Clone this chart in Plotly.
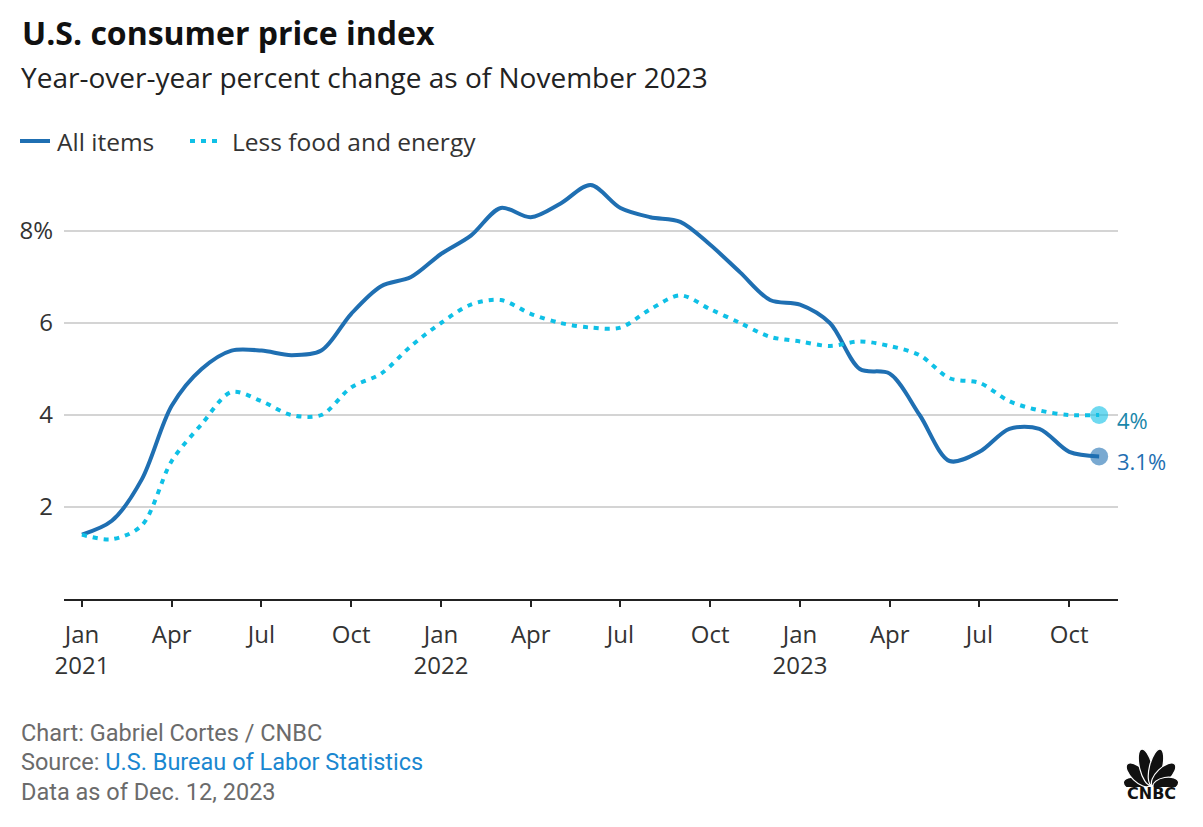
import plotly.graph_objects as go

# monthly year-over-year % change, Jan 2021 .. Nov 2023
months = ["2021-01", "2021-02", "2021-03", "2021-04", "2021-05", "2021-06",
          "2021-07", "2021-08", "2021-09", "2021-10", "2021-11", "2021-12",
          "2022-01", "2022-02", "2022-03", "2022-04", "2022-05", "2022-06",
          "2022-07", "2022-08", "2022-09", "2022-10", "2022-11", "2022-12",
          "2023-01", "2023-02", "2023-03", "2023-04", "2023-05", "2023-06",
          "2023-07", "2023-08", "2023-09", "2023-10", "2023-11"]
all_items = [1.4, 1.7, 2.6, 4.2, 5.0, 5.4, 5.4, 5.3, 5.4, 6.2, 6.8, 7.0,
             7.5, 7.9, 8.5, 8.3, 8.6, 9.0, 8.5, 8.3, 8.2, 7.7, 7.1, 6.5,
             6.4, 6.0, 5.0, 4.9, 4.0, 3.0, 3.2, 3.7, 3.7, 3.2, 3.1]
core = [1.4, 1.3, 1.6, 3.0, 3.8, 4.5, 4.3, 4.0, 4.0, 4.6, 4.9, 5.5,
        6.0, 6.4, 6.5, 6.2, 6.0, 5.9, 5.9, 6.3, 6.6, 6.3, 6.0, 5.7,
        5.6, 5.5, 5.6, 5.5, 5.3, 4.8, 4.7, 4.3, 4.1, 4.0, 4.0]

x_ticks = ["Jan<br>2021", "Apr", "Jul", "Oct", "Jan<br>2022", "Apr", "Jul", "Oct",
           "Jan<br>2023", "Apr", "Jul", "Oct"]
y_ticks = [2, 4, 6, 8]
y_labels = ["2", "4", "6", "8%"]

W, H = 1203, 827
ML, MR, MT, MB = 64, 85, 162, 228
pw, ph = W - ML - MR, H - MT - MB
FONT = "Open Sans"

def px(x):
    return (x - ML) / pw

def py(y):
    return (H - MB - y) / ph

idx = list(range(len(months)))
blue = "#1f6fb2"
cyan = "#0fc0e6"
dots = "5px,6px"

fig = go.Figure()
fig.add_trace(go.Scatter(x=idx, y=all_items, name="All items", mode="lines",
                         line=dict(color=blue, width=4, shape="spline", smoothing=0.9)))
fig.add_trace(go.Scatter(x=idx, y=core, name="Less food and energy", mode="lines",
                         line=dict(color=cyan, width=4, dash=dots, shape="spline", smoothing=0.9)))

# end point dots
fig.add_trace(go.Scatter(x=[idx[-1]], y=[core[-1]], mode="markers", cliponaxis=False,
                         marker=dict(size=18, color="rgba(15,192,230,0.6)")))
fig.add_trace(go.Scatter(x=[idx[-1]], y=[all_items[-1]], mode="markers", cliponaxis=False,
                         marker=dict(size=18, color="rgba(31,111,178,0.6)")))

foot = dict(family="Roboto", size=23.5, color="#6b6b6b")
annos = [
    dict(text="<b>U.S. consumer price index</b>", x=px(20), y=py(33), font=dict(size=32, color="#111")),
    dict(text="Year-over-year percent change as of November 2023", x=px(19), y=py(77),
         font=dict(size=28, color="#222")),
    dict(text="All items", x=px(55), y=py(142), font=dict(size=24.5, color="#333")),
    dict(text="Less food and energy", x=px(230), y=py(142), font=dict(size=24.5, color="#333")),
    dict(text="Chart: Gabriel Cortes / CNBC", x=px(19), y=py(733), font=dict(foot)),
    dict(text="Source: <span style='color:#1a87d0'>U.S. Bureau of Labor Statistics</span>",
         x=px(19), y=py(762), font=dict(foot)),
    dict(text="Data as of Dec. 12, 2023", x=px(19), y=py(792), font=dict(foot)),
    dict(text="<b>CNBC</b>", x=px(1151), y=py(793), xanchor="center",
         font=dict(family="DejaVu Sans", size=16, color="#111")),
]
for a in annos:
    a.setdefault("xanchor", "left")
    a.update(xref="paper", yref="paper", yanchor="middle", showarrow=False)
    a["font"].setdefault("family", FONT)

# end value labels, tied to the last data point
for vals, col in [(core, "#1a87aa"), (all_items, blue)]:
    annos.append(dict(text="%g%%" % vals[-1], x=idx[-1], y=vals[-1], xref="x", yref="y",
                      xanchor="left", yanchor="middle", xshift=16, yshift=-5, showarrow=False,
                      font=dict(family=FONT, size=22, color=col)))

# legend keys
shapes = [
    dict(type="line", xref="paper", yref="paper", x0=px(20), x1=px(50), y0=py(141), y1=py(141),
         line=dict(color=blue, width=4)),
    dict(type="line", xref="paper", yref="paper", x0=px(190), x1=px(217), y0=py(141), y1=py(141),
         line=dict(color=cyan, width=4, dash=dots)),
]

# peacock for the logo
petals = ""
for ang, ln, wd in [(170, 26, 14), (136, 31, 14), (104, 37, 13), (76, 37, 13), (44, 31, 14), (10, 26, 14)]:
    petals += ("<ellipse cx='%g' cy='0' rx='%g' ry='%g' fill='#111' stroke='white' stroke-width='1.2' "
               "transform='translate(32,40) rotate(%g)'/>" % (ln / 2 + 2, ln / 2, wd / 2, -ang))
svg = ("<svg xmlns='http://www.w3.org/2000/svg' width='64' height='40' viewBox='0 0 64 40'>"
       + petals + "</svg>")
logo = "data:image/svg+xml;charset=utf-8," + svg.replace("<", "%3C").replace(">", "%3E").replace("#", "%23")

fig.update_layout(
    width=W, height=H,
    margin=dict(l=ML, r=MR, t=MT, b=MB),
    paper_bgcolor="white", plot_bgcolor="white",
    font=dict(family=FONT, size=24, color="#333"),
    annotations=annos,
    shapes=shapes,
    images=[dict(source=logo, xref="paper", yref="paper", x=px(1119), y=py(747),
                 sizex=64 / pw, sizey=40 / ph, xanchor="left", yanchor="top", layer="above")],
    showlegend=False,
    xaxis=dict(range=[-0.6, 34.63], tickmode="array", tickvals=idx[::3], ticktext=x_ticks,
               showgrid=False, zeroline=False, showline=True, linecolor="#222", linewidth=1.5,
               ticks="outside", ticklen=6, tickcolor="#222", tickwidth=1.5, ticklabelstandoff=7,
               tickfont=dict(family=FONT, size=24, color="#333")),
    yaxis=dict(range=[0, ph / 46], tickmode="array", tickvals=y_ticks, ticktext=y_labels,
               showgrid=True, gridcolor="#d4d4d4", gridwidth=1.5, zeroline=False, showline=False,
               ticks="", ticklabelstandoff=10,
               tickfont=dict(family=FONT, size=24, color="#333")),
)

fig.write_html("out.html", config={"displayModeBar": False},
               post_script="document.body.style.margin='0';")
